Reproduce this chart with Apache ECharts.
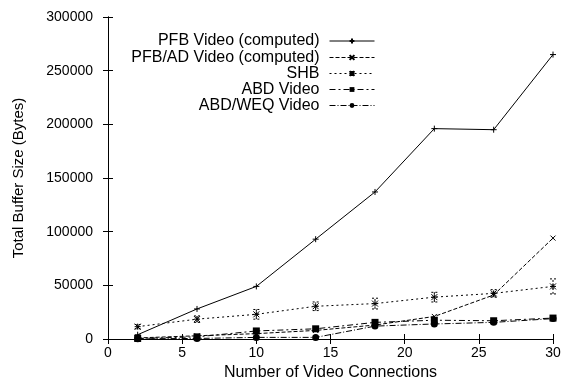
<!DOCTYPE html>
<html>
<head>
<meta charset="utf-8">
<script src="https://cdn.jsdelivr.net/npm/echarts@6/dist/echarts.min.js"></script>
<style>html,body{margin:0;padding:0;background:#fff}#c{width:565px;height:377px}</style>
</head>
<body>
<div id="c"></div>
<script>
var xValues = [2, 6, 10, 14, 18, 22, 26, 30];
var seriesNames = ['PFB Video (computed)', 'PFB/AD Video (computed)', 'SHB', 'ABD Video', 'ABD/WEQ Video'];
var pfb    = [4000, 28000, 49000, 93000, 137000, 196000, 195000, 265000];
var pfbAd  = [1000, 3000, 5000, 8000, 13000, 21000, 41000, 94000];
var shb    = [11500, 18500, 23000, 30500, 33000, 39000, 42500, 49000];
var shbErr = [2000, 3000, 4500, 4000, 5000, 4500, 3500, 7000];
var abd    = [500, 2000, 7500, 9500, 15500, 17500, 17000, 19500];
var abdWeq = [200, 500, 1500, 1500, 12000, 14000, 15500, 19000];
var xTicks = [0, 5, 10, 15, 20, 25, 30];
var yTicks = [0, 50000, 100000, 150000, 200000, 250000, 300000];

var FONT = '"Liberation Sans", Arial, sans-serif';
function pairs(v) { return xValues.map(function (x, i) { return [x, v[i]]; }); }

var plusSym = 'path://M-1,0L1,0M0,-1L0,1';
var crossSym = 'path://M-1,-1L1,1M-1,1L1,-1';
var starSym = 'path://M-1,0L1,0M0,-1L0,1M-1,-1L1,1M-1,1L1,-1';

function lineSeries(name, data, type, symbol, size, filled) {
  return {
    name: name, type: 'line', data: pairs(data),
    symbol: symbol, symbolSize: size, showSymbol: true,
    lineStyle: { color: '#000', width: 1, type: type },
    itemStyle: { color: '#000', borderColor: '#000', borderWidth: filled ? 0 : 1 },
    emphasis: { disabled: true }, animation: false, z: 3
  };
}

var series = [
  lineSeries(seriesNames[0], pfb, 'solid', plusSym, 6, false),
  lineSeries(seriesNames[1], pfbAd, [4, 2], crossSym, 5, false),
  lineSeries(seriesNames[2], shb, [2, 3], starSym, 6, false),
  lineSeries(seriesNames[3], abd, [6, 3, 2, 3], 'rect', 7, true),
  lineSeries(seriesNames[4], abdWeq, [6, 2, 1, 2], 'circle', 7, true),
  {
    type: 'custom', name: 'shbErr', animation: false, silent: true, z: 2,
    data: xValues.map(function (x, i) { return [x, shb[i] - shbErr[i], shb[i] + shbErr[i]]; }),
    renderItem: function (params, api) {
      var lo = api.coord([api.value(0), api.value(1)]);
      var hi = api.coord([api.value(0), api.value(2)]);
      var w = 3;
      var st = { stroke: '#000', lineWidth: 1, lineDash: [2, 2] };
      return { type: 'group', children: [
        { type: 'line', shape: { x1: lo[0], y1: lo[1], x2: hi[0], y2: hi[1] }, style: st },
        { type: 'line', shape: { x1: lo[0] - w, y1: lo[1], x2: lo[0] + w, y2: lo[1] }, style: st },
        { type: 'line', shape: { x1: hi[0] - w, y1: hi[1], x2: hi[0] + w, y2: hi[1] }, style: st }
      ]};
    }
  }
];

var legendTops = [33, 49.5, 65.5, 81.5, 97.5];
var legends = seriesNames.map(function (n, i) {
  return {
    data: [n], orient: 'vertical', align: 'right', right: 190, top: legendTops[i],
    padding: 0, itemWidth: 45, itemHeight: 6, itemGap: 0, selectedMode: false,
    lineStyle: { width: 1 },
    textStyle: { fontFamily: FONT, fontSize: 16, color: '#000', padding: [0, 5, 0, 0] }
  };
});

var axisCommon = {
  axisLine: { show: true, lineStyle: { color: '#000', width: 1 } },
  axisTick: { show: true, inside: true, length: 5, lineStyle: { color: '#000' } },
  splitLine: { show: false }
};

var option = {
  backgroundColor: '#fff',
  animation: false,
  grid: { left: 108, right: 12, top: 17, bottom: 38, containLabel: false, outerBoundsMode: 'none' },
  legend: legends,
  xAxis: [
    Object.assign({
      type: 'value', min: 0, max: 30, interval: 5,
      name: 'Number of Video Connections', nameLocation: 'middle', nameGap: 24,
      nameTextStyle: { fontFamily: FONT, fontSize: 16, color: '#000' },
      axisLabel: { fontFamily: FONT, fontSize: 14, color: '#000', margin: 7,
        formatter: function (v) { return xTicks.indexOf(v) >= 0 ? String(v) : ''; } }
    }, axisCommon),
    Object.assign({ type: 'value', min: 0, max: 30, interval: 5, position: 'top',
      axisLabel: { show: false } }, axisCommon)
  ],
  yAxis: [
    Object.assign({
      type: 'value', min: 0, max: 300000, interval: 50000,
      name: 'Total Buffer Size (Bytes)', nameLocation: 'middle', nameGap: 82,
      nameTextStyle: { fontFamily: FONT, fontSize: 15, color: '#000' },
      axisLabel: { fontFamily: FONT, fontSize: 14, color: '#000', margin: 15,
        formatter: function (v) { return yTicks.indexOf(v) >= 0 ? String(v) : ''; } }
    }, axisCommon),
    Object.assign({ type: 'value', min: 0, max: 300000, interval: 50000, position: 'right',
      axisLabel: { show: false } }, axisCommon)
  ],
  series: series
};

var chart = echarts.init(document.getElementById('c'), null, { renderer: 'canvas' });
chart.setOption(option);
</script>
</body>
</html>
